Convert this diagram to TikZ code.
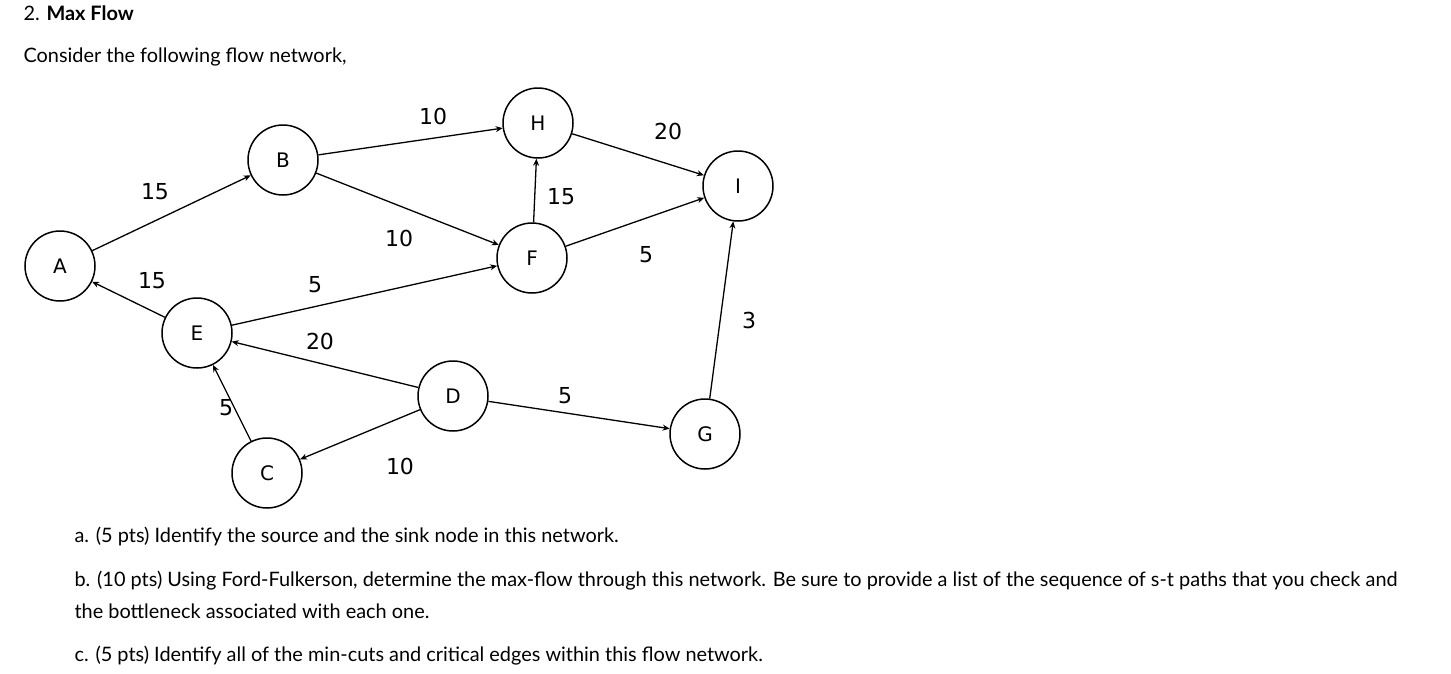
\documentclass[tikz,border=0pt]{standalone}
\usepackage{fontspec}
\setmainfont{Lato}
\newfontfamily\graphfont{DejaVu Sans}
\usetikzlibrary{arrows.meta}

\begin{document}
\begin{tikzpicture}[x=1pt, y=-1pt,
  vertex/.style={draw, circle, line width=1.5pt, minimum size=70pt, inner sep=0pt, font=\graphfont\fontsize{20}{20}\selectfont},
  capacity/.style={font=\graphfont\fontsize{22}{22}\selectfont},
  txt/.style={anchor=west, font=\fontsize{19.9}{22}\selectfont},
  flow/.style={line width=1.3pt, arrows = {-Stealth[width=6pt, length=7pt]}}]
\useasboundingbox (0, 0) rectangle (1451, 673);
\node[txt] (title) at (20, 13) {2. \textbf{Max Flow}};
\node[txt] (intro) at (20, 57) {Consider the following flow network,};

\node[vertex] (A) at (60, 266) {A};
\node[vertex] (B) at (283, 160) {B};
\node[vertex] (H) at (538, 123) {H};
\node[vertex] (I) at (738, 186) {I};
\node[vertex] (F) at (532, 258) {F};
\node[vertex] (E) at (197, 333) {E};
\node[vertex] (D) at (453, 396) {D};
\node[vertex] (G) at (705, 434) {G};
\node[vertex] (C) at (267, 473) {C};

\draw[flow] (A) -- (B);
\draw[flow] (E) -- (A);
\draw[flow] (B) -- (H);
\draw[flow] (B) -- (F);
\draw[flow] (F) -- (H);
\draw[flow] (H) -- (I);
\draw[flow] (F) -- (I);
\draw[flow] (E) -- (F);
\draw[flow] (D) -- (E);
\draw[flow] (C) -- (E);
\draw[flow] (D) -- (C);
\draw[flow] (D) -- (G);
\draw[flow] (G) -- (I);

\node[capacity] (cAB) at (155, 192) {15};
\node[capacity] (cEA) at (152, 281) {15};
\node[capacity] (cBH) at (433, 116) {10};
\node[capacity] (cBF) at (399, 238) {10};
\node[capacity] (cFH) at (561, 197) {15};
\node[capacity] (cHI) at (668, 131) {20};
\node[capacity] (cFI) at (646, 255) {5};
\node[capacity] (cEF) at (315, 285) {5};
\node[capacity] (cDE) at (320, 341) {20};
\node[capacity] (cCE) at (226, 408) {5};
\node[capacity] (cDC) at (400, 466) {10};
\node[capacity] (cDG) at (565, 396) {5};
\node[capacity] (cGI) at (749, 320) {3};

\node[txt] (qa) at (71, 536) {a. (5 pts) Identify the source and the sink node in this network.};
\node[txt] (qb) at (71, 581) {b. (10 pts) Using Ford-Fulkerson, determine the max-flow through this network. Be sure to provide a list of the sequence of s-t paths that you check and};
\node[txt] (qb2) at (71, 611) {the bottleneck associated with each one.};
\node[txt] (qc) at (71, 656) {c. (5 pts) Identify all of the min-cuts and critical edges within this flow network.};
\end{tikzpicture}
\end{document}
